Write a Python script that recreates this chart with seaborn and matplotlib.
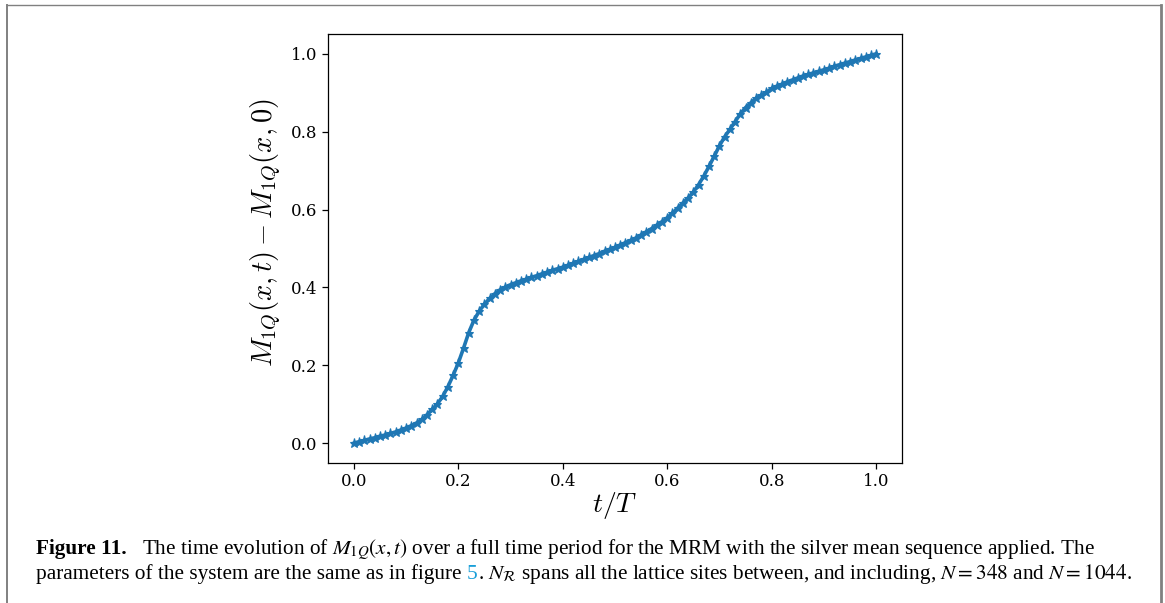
import numpy as np
import matplotlib
matplotlib.use("Agg")
import matplotlib.pyplot as plt
from matplotlib.lines import Line2D
import seaborn as sns

# M_1Q(x,t) - M_1Q(x,0), t/T in steps of 0.01
t_over_T = [round(0.01 * i, 2) for i in range(101)]
m_diff = [
    0.000, 0.004, 0.007, 0.011, 0.014, 0.018, 0.021, 0.025, 0.029, 0.034,
    0.039, 0.045, 0.052, 0.061, 0.073, 0.087, 0.101, 0.120, 0.145, 0.174,
    0.206, 0.244, 0.284, 0.316, 0.339, 0.357, 0.372, 0.384, 0.394, 0.401,
    0.407, 0.412, 0.417, 0.421, 0.426, 0.430, 0.435, 0.439, 0.444, 0.448,
    0.452, 0.457, 0.462, 0.467, 0.472, 0.477, 0.482, 0.487, 0.493, 0.498,
    0.503, 0.509, 0.515, 0.521, 0.527, 0.535, 0.543, 0.551, 0.560, 0.569,
    0.579, 0.591, 0.604, 0.617, 0.630, 0.645, 0.664, 0.686, 0.711, 0.737,
    0.764, 0.787, 0.806, 0.826, 0.846, 0.862, 0.874, 0.886, 0.894, 0.901,
    0.911, 0.917, 0.922, 0.928, 0.933, 0.938, 0.943, 0.947, 0.951, 0.955,
    0.959, 0.963, 0.968, 0.972, 0.976, 0.980, 0.984, 0.988, 0.992, 0.996,
    1.000,
]
x_ticks = [0.0, 0.2, 0.4, 0.6, 0.8, 1.0]
y_ticks = [0.0, 0.2, 0.4, 0.6, 0.8, 1.0]

plt.rcParams['font.family'] = 'serif'
plt.rcParams['font.serif'] = ['DejaVu Serif']
plt.rcParams['mathtext.fontset'] = 'cm'

fig = plt.figure(figsize=(11.65, 6.03), dpi=100)
ax = fig.add_axes([0.2813, 0.2327, 0.4932, 0.7104])

blue = '#1f77b4'
sns.lineplot(x=t_over_T, y=m_diff, ax=ax, color=blue, linewidth=2.6,
             marker='*', markersize=6.5, markeredgecolor=blue,
             markerfacecolor=blue, markeredgewidth=0.8)

ax.set_xticks(x_ticks)
ax.set_yticks(y_ticks)
ax.tick_params(labelsize=12, length=4, width=0.9)
ax.set_xlabel(r'$t/T$', fontsize=20, labelpad=0)
ax.set_ylabel(r'$M_{1Q}(x,t)-M_{1Q}(x,0)$', fontsize=20.5)
ax.yaxis.set_label_coords(-0.077, 0.537)
for s in ax.spines.values():
    s.set_linewidth(0.9)

# page frame around the figure
grey = '#808080'
fig.add_artist(Line2D([6.5 / 1165, 6.5 / 1165], [0, 1 - 4.5 / 603],
                      transform=fig.transFigure, color=grey, lw=1.4))
fig.add_artist(Line2D([6.5 / 1165, 1160.5 / 1165], [1 - 4.5 / 603, 1 - 4.5 / 603],
                      transform=fig.transFigure, color=grey, lw=1.0))
fig.add_artist(Line2D([1160.5 / 1165, 1160.5 / 1165], [0, 1 - 4.5 / 603],
                      transform=fig.transFigure, color=grey, lw=2.0))

# caption
cap = dict(family='Liberation Serif', fontsize=15.3, math_fontfamily='stix', va='baseline')
y1 = 1 - 554 / 603
y2 = 1 - 579 / 603
x0 = 36 / 1165
t_fig = fig.text(x0, y1, 'Figure 11.', fontweight='bold', **cap)
ax.annotate(r'The time evolution of $M_{1Q}(x,t)$ over a full time period for the MRM '
            r'with the silver mean sequence applied. The',
            xy=(1, y1), xycoords=(t_fig, 'figure fraction'),
            xytext=(11, 0), textcoords='offset points', annotation_clip=False, **cap)
t_a = fig.text(x0, y2, 'parameters of the system are the same as in figure', **cap)
t_5 = ax.annotate('5', xy=(1, y2), xycoords=(t_a, 'figure fraction'),
                  xytext=(3.8, 0), textcoords='offset points', color='#1a9fd8',
                  annotation_clip=False, **cap)
ax.annotate(r'. $N_{\mathcal{R}}$ spans all the lattice sites between, and including, '
            r'$N = 348$ and $N = 1044$.',
            xy=(1, y2), xycoords=(t_5, 'figure fraction'),
            annotation_clip=False, **cap)

fig.savefig('out.png', dpi=100)
